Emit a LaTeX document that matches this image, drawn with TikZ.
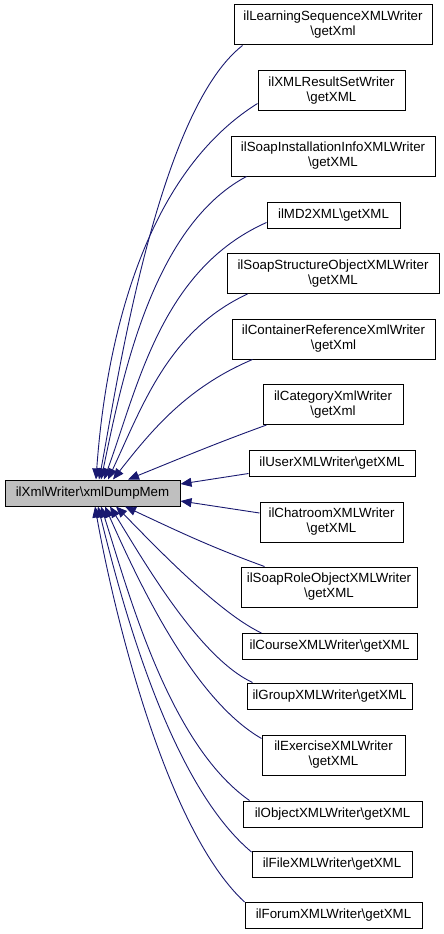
\documentclass[tikz,border=0pt]{standalone}
\usepackage{fontspec}
\setmainfont{Liberation Sans}
\usetikzlibrary{arrows.meta}
\definecolor{edgeblue}{HTML}{191970}
\definecolor{mainfill}{HTML}{BFBFBF}
\tikzset{
  cls/.style={draw=black, line width=1pt, fill=white, align=center, inner sep=0pt,
    font=\fontsize{13.3}{15}\selectfont},
  mainbox/.style={cls, fill=mainfill},
  edge/.style={draw=edgeblue, line width=0.9pt, -{Triangle[length=11pt,width=9pt]}, fill=none},
}
\begin{document}
\begin{tikzpicture}[x=1pt,y=1pt]
\useasboundingbox (0,0) rectangle (444,-934);
\node[mainbox, minimum width=175pt, minimum height=26pt] (main) at (92.5,-493) {ilXmlWriter\textbackslash xmlDumpMem};
\node[cls, minimum width=198pt, minimum height=40pt] (n1) at (333,-25) {ilLearningSequenceXMLWriter\\\textbackslash getXml};
\node[cls, minimum width=147pt, minimum height=40pt] (n2) at (331.5,-90.5) {ilXMLResultSetWriter\\\textbackslash getXML};
\node[cls, minimum width=204pt, minimum height=40pt] (n3) at (333,-156) {ilSoapInstallationInfoXMLWriter\\\textbackslash getXML};
\node[cls, minimum width=133pt, minimum height=26pt] (n4) at (333.5,-215) {ilMD2XML\textbackslash getXML};
\node[cls, minimum width=212pt, minimum height=40pt] (n5) at (333,-273.5) {ilSoapStructureObjectXMLWriter\\\textbackslash getXML};
\node[cls, minimum width=203pt, minimum height=40pt] (n6) at (333.5,-339) {ilContainerReferenceXmlWriter\\\textbackslash getXml};
\node[cls, minimum width=140pt, minimum height=40pt] (n7) at (333,-404.5) {ilCategoryXmlWriter\\\textbackslash getXml};
\node[cls, minimum width=166pt, minimum height=26pt] (n8) at (332,-463.5) {ilUserXMLWriter\textbackslash getXML};
\node[cls, minimum width=143pt, minimum height=40pt] (n9) at (331.5,-522) {ilChatroomXMLWriter\\\textbackslash getXML};
\node[cls, minimum width=176pt, minimum height=40pt] (n10) at (329,-587) {ilSoapRoleObjectXMLWriter\\\textbackslash getXML};
\node[cls, minimum width=175pt, minimum height=26pt] (n11) at (329.5,-646.5) {ilCourseXMLWriter\textbackslash getXML};
\node[cls, minimum width=165pt, minimum height=26pt] (n12) at (329.5,-696) {ilGroupXMLWriter\textbackslash getXML};
\node[cls, minimum width=143pt, minimum height=40pt] (n13) at (333.5,-755) {ilExerciseXMLWriter\\\textbackslash getXML};
\node[cls, minimum width=179pt, minimum height=26pt] (n14) at (332.5,-814) {ilObjectXMLWriter\textbackslash getXML};
\node[cls, minimum width=160pt, minimum height=26pt] (n15) at (332,-864.5) {ilFileXMLWriter\textbackslash getXML};
\node[cls, minimum width=177pt, minimum height=26pt] (n16) at (333.5,-915.5) {ilForumXMLWriter\textbackslash getXML};
% upper edges
\draw[edge] ([xshift=9pt]n1.south west) to[out=218,in=79,out distance=110pt,in distance=85pt] ([xshift=6.5pt]main.north);
\draw[edge] ([yshift=7.5pt]n2.south west) to[out=212,in=86,out distance=140pt,in distance=125pt] ([xshift=3.5pt]main.north);
\draw[edge] ([xshift=16pt]n3.south west) to[out=208,in=78,out distance=110pt,in distance=93pt] ([xshift=8.5pt]main.north);
\draw[edge] ([yshift=6pt]n4.south west) to[out=204,in=70,out distance=115pt,in distance=100pt] ([xshift=11.5pt]main.north);
\draw[edge] ([xshift=21pt]n5.south west) to[out=205,in=65,out distance=87pt,in distance=83pt] ([xshift=15.5pt]main.north);
\draw[edge] ([xshift=21pt]n6.south west) to[out=203,in=52,out distance=70pt,in distance=65pt] ([xshift=20.5pt]main.north);
\draw[edge] ([xshift=4pt]n7.south west) to[out=200,in=22] ([xshift=35.5pt]main.north);
\draw[edge] ([yshift=3.5pt]n8.south west) -- ([yshift=9pt]main.east);
\draw[edge] ([yshift=9pt]n9.west) -- ([yshift=-8pt]main.east);
% lower edges
\draw[edge] ([xshift=24pt]n10.north west) to[out=160,in=-25] ([xshift=32.5pt]main.south);
\draw[edge] ([xshift=20pt]n11.north west) to[out=155,in=-45,out distance=50pt,in distance=40pt] ([xshift=23.5pt]main.south);
\draw[edge] ([xshift=6pt]n12.north west) to[out=155,in=-58,out distance=60pt,in distance=60pt] ([xshift=17.5pt]main.south);
\draw[edge] ([yshift=-4pt]n13.north west) to[out=150,in=-66,out distance=80pt,in distance=80pt] ([xshift=12.5pt]main.south);
\draw[edge] ([xshift=7pt]n14.north west) to[out=145,in=-72,out distance=100pt,in distance=85pt] ([xshift=8.5pt]main.south);
\draw[edge] ([yshift=-1pt]n15.north west) to[out=140,in=-76,out distance=110pt,in distance=90pt] ([xshift=5.5pt]main.south);
\draw[edge] (n16.north west) to[out=137,in=-80,out distance=113pt,in distance=90pt] ([xshift=2.5pt]main.south);
\end{tikzpicture}
\end{document}
